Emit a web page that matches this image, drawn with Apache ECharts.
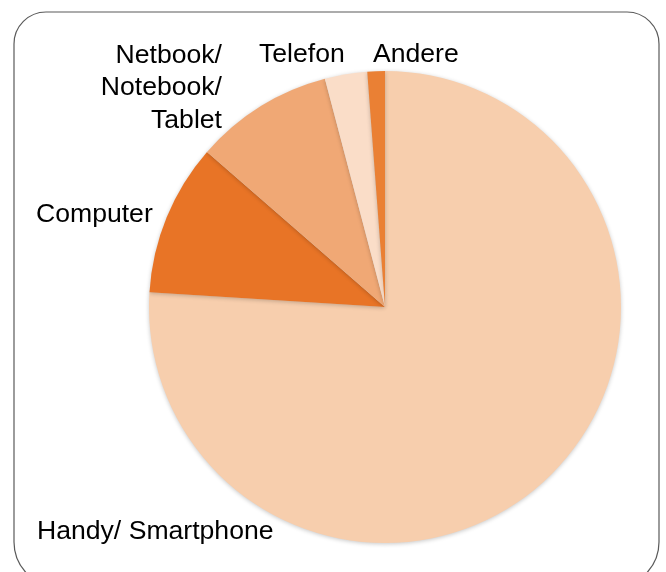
<!DOCTYPE html>
<html>
<head>
<meta charset="utf-8">
<script src="https://cdn.jsdelivr.net/npm/echarts@6/dist/echarts.min.js"></script>
<style>
html,body{margin:0;padding:0;background:#fff;}
#chart{width:666px;height:572px;}
</style>
</head>
<body>
<div id="chart"></div>
<script>
const categories = ['Handy/ Smartphone', 'Computer', 'Netbook/\nNotebook/\nTablet', 'Telefon', 'Andere'];
const values = [76.0, 10.4, 9.5, 2.9, 1.2];
const colors = ['#F7CEAD', '#E87426', '#F0A875', '#FADDC8', '#EA8034'];

// label anchor positions (layout only)
const labelPos = [
  {x: 37, y: 532, align: 'left'},
  {x: 36, y: 215, align: 'left'},
  {x: 222, y: 88, align: 'right'},
  {x: 259, y: 55, align: 'left'},
  {x: 373, y: 55, align: 'left'}
];

const chart = echarts.init(document.getElementById('chart'), null, {renderer: 'canvas'});
chart.setOption({
  backgroundColor: '#fff',
  animation: false,
  graphic: [{
    type: 'rect',
    z: -1,
    shape: {x: 14, y: 12, width: 645, height: 575, r: [32, 32, 45, 45]},
    style: {fill: 'none', stroke: '#5a5a5a', lineWidth: 1.2}
  }],
  series: [{
    type: 'pie',
    center: [385, 307],
    radius: 236,
    startAngle: 90,
    clockwise: true,
    data: categories.map((c, i) => ({
      name: c,
      value: values[i],
      itemStyle: {color: colors[i]}
    })),
    itemStyle: {
      shadowBlur: 4,
      shadowColor: 'rgba(0,0,0,0.22)',
      shadowOffsetX: 0,
      shadowOffsetY: 1
    },
    label: {
      show: true,
      position: 'outside',
      formatter: '{b}',
      color: '#000',
      fontSize: 26.6,
      lineHeight: 32.5,
      overflow: 'none',
      width: 400,
      fontFamily: '"Liberation Sans", Arial, sans-serif'
    },
    labelLine: {show: false},
    labelLayout: function (p) {
      const lp = labelPos[p.dataIndex];
      return {x: lp.x, y: lp.y, align: lp.align, verticalAlign: 'middle', hideOverlap: false};
    },
    emphasis: {disabled: true}
  }]
});
</script>
</body>
</html>
